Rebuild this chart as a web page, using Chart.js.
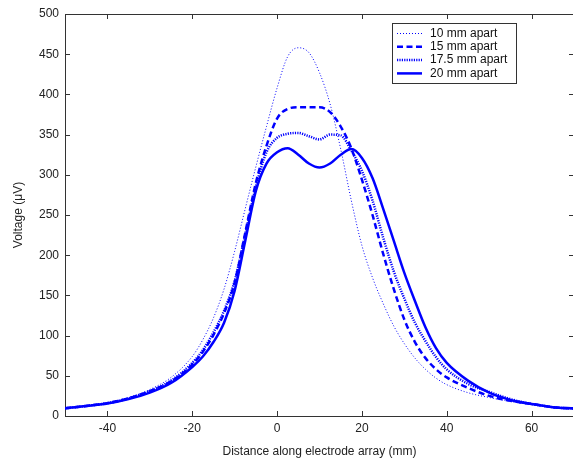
<!DOCTYPE html>
<html>
<head>
<meta charset="utf-8">
<script src="https://cdn.jsdelivr.net/npm/chart.js@4.4.0/dist/chart.umd.min.js"></script>
<style>
  html, body { margin: 0; padding: 0; background: #fff; overflow: hidden; }
  #wrap { width: 574px; height: 462px; }
</style>
</head>
<body>
<div id="wrap"><canvas id="chart" width="574" height="462"></canvas></div>
<script>
// distance along the array (mm)
const distance = [-50, -45, -40, -35, -30, -25, -20, -17.5, -15, -12.5, -10, -7.5, -5, -2.5,
  0, 2.5, 5, 7.5, 10, 12.5, 15, 17.5, 20, 22.5, 25, 27.5, 30, 32.5, 35, 37.5, 40, 45, 50, 55, 60, 65, 70];

// voltage (uV) for each electrode spacing
const apart10 = [10, 13, 17, 23, 33, 48, 74, 95, 122, 158, 205, 258, 310, 360,
  408, 447, 458, 452, 427, 388, 332, 268, 212, 172, 140, 112, 90, 72, 58, 47, 39, 29, 23, 18, 14, 11, 9];
const apart15 = [9.5, 12.5, 16, 22, 31, 43, 64, 80, 101, 128, 166, 228, 290, 336,
  370, 382, 384, 384, 384, 378, 360, 333, 294, 250, 202, 158, 120, 92, 72, 58, 48, 35, 25, 19, 15, 11, 9];
const apart175 = [9.5, 12.5, 16, 22, 31, 44, 66, 82, 104, 131, 168, 226, 285, 328,
  346, 351, 352, 348, 344, 350, 349, 330, 305, 268, 222, 180, 146, 116, 93, 73, 58, 40, 30, 21, 15, 11, 9];
const apart20 = [9.5, 12.5, 15.5, 21, 29, 41, 61, 74, 92, 116, 156, 218, 280, 314,
  328, 333, 325, 314, 309, 314, 325, 332, 321, 296, 258, 218, 178, 143, 110, 84, 66, 44, 29, 20, 15, 11, 9.5];

const seriesLabels = ['10 mm apart', '15 mm apart', '17.5 mm apart', '20 mm apart'];
const xTicks = [-40, -20, 0, 20, 40, 60];
const yTicks = [0, 50, 100, 150, 200, 250, 300, 350, 400, 450, 500];

const FONT = "'Liberation Sans', Arial, Helvetica, sans-serif";
const BLUE = '#0000ff';

function toPoints(values) {
  return distance.map((d, i) => ({ x: d, y: values[i] }));
}

// inward tick marks, top/right box edges, and the boxed legend
const framePlugin = {
  id: 'frame',
  afterDraw(chart) {
    const { ctx, chartArea: a, scales: { x, y } } = chart;
    ctx.save();
    ctx.strokeStyle = '#333';
    ctx.lineWidth = 1;
    ctx.setLineDash([]);
    ctx.beginPath();
    ctx.moveTo(a.left, a.top + 0.5);
    ctx.lineTo(a.right, a.top + 0.5);
    ctx.moveTo(a.right - 0.5, a.top);
    ctx.lineTo(a.right - 0.5, a.bottom);
    x.ticks.forEach(t => {
      const px = Math.round(x.getPixelForValue(t.value)) + 0.5;
      ctx.moveTo(px, a.bottom); ctx.lineTo(px, a.bottom - 5);
      ctx.moveTo(px, a.top); ctx.lineTo(px, a.top + 5);
    });
    y.ticks.forEach(t => {
      const py = Math.round(y.getPixelForValue(t.value)) + 0.5;
      ctx.moveTo(a.left, py); ctx.lineTo(a.left + 5, py);
      ctx.moveTo(a.right, py); ctx.lineTo(a.right - 5, py);
    });
    ctx.stroke();

    // legend
    const bx = 392.5, by = 23.5, bw = 124, bh = 60;
    ctx.fillStyle = '#fff';
    ctx.fillRect(bx, by, bw, bh);
    ctx.strokeRect(bx, by, bw, bh);
    ctx.font = '12px ' + FONT;
    ctx.textBaseline = 'middle';
    chart.data.datasets.forEach((ds, i) => {
      const ry = 33.5 + i * 13.3;
      ctx.strokeStyle = ds.borderColor;
      ctx.lineWidth = ds.borderWidth;
      ctx.setLineDash(ds.borderDash || []);
      ctx.beginPath();
      ctx.moveTo(397, ry);
      ctx.lineTo(422, ry);
      ctx.stroke();
      ctx.setLineDash([]);
      ctx.fillStyle = '#111';
      ctx.fillText(ds.label, 430, ry);
    });
    ctx.restore();
  }
};

const ctx = document.getElementById('chart').getContext('2d');
new Chart(ctx, {
  type: 'line',
  data: {
    datasets: [
      { label: seriesLabels[0], data: toPoints(apart10), borderColor: BLUE, borderWidth: 1, borderDash: [1, 2] },
      { label: seriesLabels[1], data: toPoints(apart15), borderColor: BLUE, borderWidth: 2.5, borderDash: [6, 3.5] },
      { label: seriesLabels[2], data: toPoints(apart175), borderColor: BLUE, borderWidth: 2.5, borderDash: [1.2, 1.2] },
      { label: seriesLabels[3], data: toPoints(apart20), borderColor: BLUE, borderWidth: 2.5 }
    ]
  },
  options: {
    responsive: false,
    animation: false,
    layout: { padding: { top: 14, right: 0, left: 0, bottom: 0 } },
    elements: {
      point: { radius: 0 },
      line: { cubicInterpolationMode: 'monotone', fill: false }
    },
    plugins: {
      legend: { display: false },
      tooltip: { enabled: false }
    },
    scales: {
      x: {
        type: 'linear',
        min: -50,
        max: 70,
        afterBuildTicks: s => { s.ticks = xTicks.map(v => ({ value: v })); },
        afterFit: s => { s.height = 46; },
        grid: { display: false, drawTicks: false },
        border: { display: true, color: '#333', width: 1 },
        ticks: { padding: 5, color: '#222', autoSkip: false, maxRotation: 0, font: { family: FONT, size: 12 } },
        title: {
          display: true,
          text: 'Distance along electrode array (mm)',
          color: '#222',
          padding: { top: 0, bottom: 3 },
          font: { family: FONT, size: 12 }
        }
      },
      y: {
        type: 'linear',
        min: 0,
        max: 500,
        afterBuildTicks: s => { s.ticks = yTicks.map(v => ({ value: v })); },
        afterFit: s => { s.width = 65; },
        grid: { display: false, drawTicks: false },
        border: { display: true, color: '#333', width: 1 },
        ticks: { padding: 6, color: '#222', autoSkip: false, font: { family: FONT, size: 12 } },
        title: {
          display: true,
          text: 'Voltage (\u03bcV)',
          color: '#222',
          padding: { top: 11, bottom: 0 },
          font: { family: FONT, size: 12 }
        }
      }
    }
  },
  plugins: [framePlugin]
});
</script>
</body>
</html>
